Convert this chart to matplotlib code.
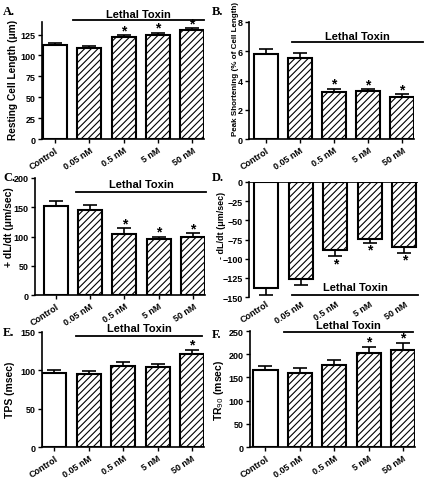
import matplotlib
matplotlib.use("Agg")
import matplotlib.pyplot as plt
import numpy as np

plt.rcParams['font.family'] = 'sans-serif'
plt.rcParams['font.sans-serif'] = ['Liberation Sans', 'DejaVu Sans']
plt.rcParams['hatch.linewidth'] = 0.8
plt.rcParams['hatch.color'] = 'black'

groups = ["Control", "0.05 nM", "0.5 nM", "5 nM", "50 nM"]

# panel data (mean, s.e.m.)
rcl_mean = [112, 109, 122, 125, 130]
rcl_err = [2.5, 2, 2, 2, 2.5]
ps_mean = [5.8, 5.55, 3.2, 3.25, 2.9]
ps_err = [0.35, 0.3, 0.25, 0.15, 0.17]
pdl_mean = [152, 146, 105, 95, 99]
pdl_err = [9, 7, 9, 5, 7]
ndl_mean = [-138, -127, -89, -74, -85]
ndl_err = [10, 7, 8, 5, 7]
tps_mean = [96, 95, 106, 104, 121]
tps_err = [4, 4, 5, 4, 6]
tr_mean = [167, 160, 176, 202, 210]
tr_err = [8, 10, 11, 14, 15]

W, H = 425, 481
fig = plt.figure(figsize=(W / 100, H / 100), dpi=100)


def panel(rect, means, errs, stars, ylim, yticks, xlim, ylabel, lab_px, lt_x, lt_y, txt_y,
          negative=False, ylabel_size=7.5, ylabel_weight='bold'):
    left, top, right, bottom = rect
    ax = fig.add_axes([left / W, 1 - bottom / H, (right - left) / W, (bottom - top) / H])
    x = np.arange(len(means))
    for i in range(len(means)):
        ax.bar(x[i], means[i], width=0.7, color='white', edgecolor='black', linewidth=1.5,
               hatch=None if i == 0 else '/////', zorder=2)
        yerr = [[errs[i]], [0]] if negative else [[0], [errs[i]]]
        ax.errorbar(x[i], means[i], yerr=yerr, fmt='none', ecolor='black',
                    elinewidth=1.2, capsize=4.7, capthick=1.2, zorder=1)
        if stars[i]:
            if negative:
                ax.annotate('*', (x[i], means[i] - errs[i]), xytext=(0, -7),
                            textcoords='offset pixels', ha='center', va='center',
                            fontsize=10, fontweight='bold')
            else:
                ax.annotate('*', (x[i], means[i] + errs[i]), xytext=(0, 5),
                            textcoords='offset pixels', ha='center', va='center',
                            fontsize=10, fontweight='bold')
    ax.set_xlim(*xlim)
    ax.set_ylim(*ylim)
    ax.set_yticks(yticks)
    ax.set_xticks(x)
    ax.set_xticklabels(groups, rotation=33, ha='right', rotation_mode='anchor')
    ax.spines['top'].set_visible(False)
    ax.spines['right'].set_visible(False)
    ax.spines['left'].set_linewidth(1.2)
    ax.spines['bottom'].set_linewidth(1.2)
    ax.tick_params(axis='both', labelsize=6.5, width=1, length=3, pad=1.5)
    for lab in ax.get_xticklabels() + ax.get_yticklabels():
        lab.set_fontweight('bold')
    if negative:
        ax.spines['bottom'].set_visible(False)
        ax.axhline(0, color='black', linewidth=1.2)
        ax.tick_params(axis='x', length=0)
    ax.set_ylabel(ylabel, fontsize=ylabel_size, fontweight=ylabel_weight, va='center')
    ax.yaxis.set_label_coords((lab_px[0] - left) / (right - left),
                              (bottom - lab_px[1]) / (bottom - top))
    ax.plot(lt_x, [lt_y, lt_y], color='black', linewidth=1.3, clip_on=False)
    ax.text(np.mean(lt_x), txt_y, 'Lethal Toxin', ha='center', va='center', fontsize=8,
            fontweight='bold', clip_on=False)
    return ax


panel((42, 23, 204, 140), rcl_mean, rcl_err, [0, 0, 1, 1, 1], (0, 140),
      [0, 25, 50, 75, 100, 125], (-0.38, 4.35), 'Resting Cell Length (\u03bcm)', (13, 80),
      [0.53, 4.35], 142.5, 150, ylabel_size=7.3)
panel((249, 23, 414, 140), ps_mean, ps_err, [0, 0, 1, 1, 1], (0, 8),
      [0, 2, 4, 6, 8], (-0.5, 4.35), 'Peak Shortening (% of Cell Length)', (235, 69),
      [0.76, 4.6], 6.63, 7.05, ylabel_size=5.8, ylabel_weight='semibold')
panel((35, 179, 205, 296), pdl_mean, pdl_err, [0, 0, 1, 1, 1], (0, 200),
      [0, 50, 100, 150, 200], (-0.6, 4.35), '+ dL/dt (\u03bcm/sec)', (9, 227),
      [0.6, 4.37], 176, 189)
panel((249, 183, 418, 298), ndl_mean, ndl_err, [0, 0, 1, 1, 1], (-150, 0),
      [0, -25, -50, -75, -100, -125, -150], (-0.5, 4.4), '- dL/dt (\u03bcm/sec)', (221, 225),
      [0.75, 4.4], -147.5, -137, negative=True, ylabel_size=6.4)
panel((42, 333, 204, 448), tps_mean, tps_err, [0, 0, 0, 0, 1], (0, 150),
      [0, 50, 100, 150], (-0.36, 4.35), 'TPS (msec)', (10, 390),
      [0.63, 4.3], 145, 155)
panel((250, 332, 415, 448), tr_mean, tr_err, [0, 0, 0, 1, 1], (0, 250),
      [0, 50, 100, 150, 200, 250], (-0.45, 4.35), 'TR$_{90}$ (msec)', (219, 390),
      [0.55, 4.3], 248, 263)

letters = [('A.', 3, 12), ('B.', 212, 12), ('C.', 3, 178), ('D.', 212, 178),
           ('E.', 3, 333), ('F.', 212, 335)]
for lt, lx, ly in letters:
    fig.text(lx / W, 1 - ly / H, lt, fontsize=9, fontweight='bold', family='Liberation Serif',
             ha='left', va='center')

fig.savefig('out.png', dpi=100)
